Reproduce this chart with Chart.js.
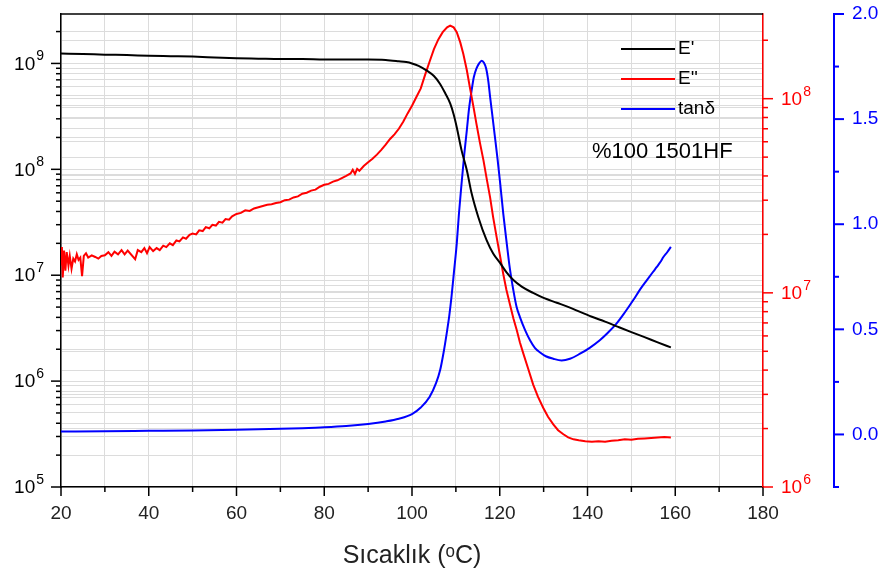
<!DOCTYPE html>
<html>
<head>
<meta charset="utf-8">
<script src="https://cdn.jsdelivr.net/npm/chart.js@4/dist/chart.umd.min.js"></script>
<style>
  body { margin: 0; background: #fff; }
  canvas { display: block; }
</style>
</head>
<body>
<canvas id="dma" width="888" height="576"></canvas>
<script>
// E' (storage modulus), left log axis
const tempE1 = [20, 25, 30, 35, 40, 45, 50, 55, 60, 65, 70, 75, 80, 85, 90, 94, 97, 98.7, 100, 101.5,
  103.3, 105, 106.4, 107.6, 108.7, 109.5, 110.2, 111.3, 112.5, 113.6, 115.1, 117, 118.5, 120.1, 121.5,
  123.1, 125, 127.6, 130, 133, 136, 138.3, 141, 144, 147, 150, 153, 156, 159];
const valE1 = [1.24e9, 1.23e9, 1.21e9, 1.2e9, 1.18e9, 1.17e9, 1.16e9, 1.14e9, 1.12e9, 1.11e9, 1.1e9, 1.1e9,
  1.09e9, 1.09e9, 1.09e9, 1.08e9, 1.05e9, 1.03e9, 1.0e9, 9.5e8, 8.6e8, 7.6e8, 6.4e8, 5.2e8, 4.2e8, 3.3e8,
  2.5e8, 1.51e8, 9.8e7, 5.9e7, 3.55e7, 2.14e7, 1.6e7, 1.3e7, 1.07e7, 9.0e6, 7.8e6, 6.8e6, 6.1e6, 5.5e6,
  4.95e6, 4.5e6, 4.05e6, 3.65e6, 3.25e6, 2.9e6, 2.6e6, 2.32e6, 2.08e6];

// E'' (loss modulus), red log axis
const tempE2 = [20, 20.2, 20.4, 20.7, 21, 21.3, 21.7, 22, 22.4, 22.8, 23.2, 23.6, 24, 24.4, 24.8, 25.2, 25.7,
  26.2, 27, 27.8, 28.5, 29.2, 30, 30.8, 31.5, 32.2, 33, 33.8, 34.5, 35.2, 36.9, 37.5, 38.3, 39, 39.6, 40.2,
  41, 41.8, 42.5, 43.3, 44, 44.8, 45.5, 46.3, 47, 47.8, 48.5, 49.3, 50, 50.8, 51.5, 52.3, 53, 53.8, 54.5,
  55.3, 56, 56.8, 57.5, 58.3, 59, 60, 61, 62, 63, 64, 65, 66, 67, 68, 69, 70, 71, 72, 73, 74, 75, 76, 77,
  78, 79, 80, 81, 82, 83, 84, 85, 86, 86.5, 87, 87.5, 88, 89, 90, 91, 92, 93, 94, 95, 96, 97, 98, 99, 100,
  101, 102, 103, 104, 105, 106, 107, 108, 108.7, 109.5, 110.2, 111, 111.7, 112.5, 113.2, 114, 114.7, 115.5,
  116.3, 117, 117.8, 118.5, 119.3, 120, 120.8, 121.5, 122.3, 123.1, 123.9, 124.6, 125.4, 126.5, 127.6,
  128.7, 129.9, 131, 132.2, 133.3, 134.5, 135.6, 136.8, 138, 139.5, 141, 142.5, 144, 145.5, 147, 148.5,
  150, 151.5, 153, 154.5, 156, 157.5, 159];
const valE2 = [1.4e7, 1.72e7, 1.2e7, 1.65e7, 1.3e7, 1.62e7, 1.38e7, 1.55e7, 1.33e7, 1.5e7, 1.45e7, 1.58e7,
  1.48e7, 1.52e7, 1.22e7, 1.55e7, 1.6e7, 1.52e7, 1.56e7, 1.53e7, 1.5e7, 1.55e7, 1.56e7, 1.62e7, 1.55e7,
  1.63e7, 1.58e7, 1.66e7, 1.58e7, 1.65e7, 1.49e7, 1.66e7, 1.62e7, 1.7e7, 1.6e7, 1.72e7, 1.64e7, 1.7e7,
  1.66e7, 1.75e7, 1.72e7, 1.8e7, 1.76e7, 1.86e7, 1.84e7, 1.93e7, 1.9e7, 1.99e7, 2.02e7, 2.0e7, 2.1e7,
  2.08e7, 2.18e7, 2.15e7, 2.24e7, 2.22e7, 2.32e7, 2.3e7, 2.4e7, 2.38e7, 2.48e7, 2.55e7, 2.58e7, 2.66e7,
  2.64e7, 2.72e7, 2.76e7, 2.8e7, 2.84e7, 2.86e7, 2.9e7, 2.93e7, 3.0e7, 3.02e7, 3.1e7, 3.14e7, 3.24e7,
  3.28e7, 3.36e7, 3.4e7, 3.52e7, 3.6e7, 3.64e7, 3.74e7, 3.8e7, 3.9e7, 4.0e7, 4.12e7, 4.3e7, 4.1e7, 4.35e7,
  4.25e7, 4.5e7, 4.7e7, 4.9e7, 5.15e7, 5.45e7, 5.8e7, 6.2e7, 6.55e7, 7.0e7, 7.6e7, 8.4e7, 9.2e7, 1.02e8,
  1.13e8, 1.33e8, 1.55e8, 1.8e8, 2.02e8, 2.2e8, 2.33e8, 2.38e8, 2.33e8, 2.2e8, 1.95e8, 1.7e8, 1.4e8,
  1.14e8, 9.1e7, 7.4e7, 5.9e7, 4.8e7, 3.9e7, 3.1e7, 2.45e7, 1.93e7, 1.58e7, 1.25e7, 1.04e7, 8.75e6, 7.4e6,
  6.4e6, 5.55e6, 4.85e6, 4.05e6, 3.38e6, 2.92e6, 2.56e6, 2.3e6, 2.1e6, 1.96e6, 1.87e6, 1.8e6, 1.76e6,
  1.74e6, 1.72e6, 1.71e6, 1.72e6, 1.71e6, 1.73e6, 1.74e6, 1.76e6, 1.75e6, 1.77e6, 1.78e6, 1.79e6, 1.8e6,
  1.81e6, 1.8e6];

// tan delta, blue linear axis
const tempTan = [20, 30, 40, 50, 60, 70, 75, 80, 85, 90, 94, 97, 100, 102, 104, 105.5, 106.4, 107.2, 107.9,
  108.5, 109, 109.6, 110.2, 110.7, 111.3, 111.9, 112.5, 113, 113.6, 114.1, 114.7, 115.3, 115.9, 116.4,
  116.9, 117.4, 117.8, 118.3, 118.9, 119.5, 120.1, 120.8, 121.6, 122.3, 123.1, 123.8, 124.6, 125.8, 126.9,
  128, 129.2, 130.5, 132.2, 134.1, 136, 138.3, 140.5, 142.8, 144.7, 146.6, 148.5, 150.4, 152, 153.5, 155,
  155.8, 156.6, 157.3, 158.2, 159];
const valTan = [0.014, 0.015, 0.017, 0.019, 0.022, 0.027, 0.03, 0.034, 0.04, 0.05, 0.062, 0.075, 0.097,
  0.128, 0.178, 0.245, 0.305, 0.39, 0.48, 0.565, 0.654, 0.78, 0.908, 1.05, 1.194, 1.33, 1.448, 1.55, 1.638,
  1.7, 1.741, 1.765, 1.778, 1.768, 1.741, 1.68, 1.606, 1.52, 1.416, 1.31, 1.194, 1.05, 0.908, 0.79, 0.686,
  0.61, 0.558, 0.495, 0.448, 0.412, 0.39, 0.372, 0.36, 0.352, 0.36, 0.384, 0.412, 0.448, 0.485, 0.527,
  0.58, 0.638, 0.69, 0.733, 0.775, 0.797, 0.82, 0.844, 0.868, 0.892];

const seriesNames = ["E'", "E''", 'tan\u03b4'];
const sampleLabel = '%100 1501HF';
const xTitle = 'Sıcaklık (ᵒC)';

const GRID = '#dcdcdc';
Chart.defaults.font.family = '"Liberation Sans", Arial, sans-serif';

const pts = (xs, ys) => xs.map((x, i) => ({ x: x, y: ys[i] }));

// fixed box sizes, no extra label padding
const fixSize = (w, h) => s => {
  if (w) s.width = w;
  if (h) s.height = h;
  s.paddingTop = 0; s.paddingBottom = 0; s.paddingLeft = 0; s.paddingRight = 0;
};

// all 1..9 x 10^n ticks between min and max
function logTicks(scale) {
  const out = [];
  for (let e = Math.floor(Math.log10(scale.min)); e <= Math.ceil(Math.log10(scale.max)); e++) {
    for (let m = 1; m <= 9; m++) {
      const v = m * Math.pow(10, e);
      if (v >= scale.min * 0.999 && v <= scale.max * 1.001) out.push({ value: v });
    }
  }
  scale.ticks = out;
}

function drawLogAxis(ctx, scale, side, color) {
  const x0 = side === 'left' ? scale.right : scale.left;
  const dir = side === 'left' ? -1 : 1;
  ctx.strokeStyle = color;
  ctx.fillStyle = color;
  ctx.lineWidth = 1.5;
  scale.ticks.forEach(t => {
    const e = Math.round(Math.log10(t.value));
    const major = Math.abs(t.value / Math.pow(10, e) - 1) < 1e-6;
    const y = scale.getPixelForValue(t.value);
    ctx.beginPath();
    ctx.moveTo(x0, y);
    ctx.lineTo(x0 + dir * (major ? 10 : 5), y);
    ctx.stroke();
    if (!major) return;
    ctx.font = '19px "Liberation Sans", Arial, sans-serif';
    const w10 = ctx.measureText('10').width;
    ctx.font = '14px "Liberation Sans", Arial, sans-serif';
    const wExp = ctx.measureText(String(e)).width;
    const start = side === 'left' ? x0 - 18 - w10 - wExp : x0 + 18;
    ctx.textAlign = 'left';
    ctx.textBaseline = 'middle';
    ctx.font = '19px "Liberation Sans", Arial, sans-serif';
    ctx.fillText('10', start, y + 1);
    ctx.font = '14px "Liberation Sans", Arial, sans-serif';
    ctx.fillText(String(e), start + w10 + 1, y - 7);
  });
}

const decorPlugin = {
  id: 'decor',
  afterDraw(chart) {
    const ctx = chart.ctx;
    const a = chart.chartArea;
    ctx.save();
    // top frame line
    ctx.strokeStyle = '#000';
    ctx.lineWidth = 1.5;
    ctx.beginPath();
    ctx.moveTo(a.left, a.top);
    ctx.lineTo(a.right, a.top);
    ctx.stroke();

    // x tick marks
    const xs = chart.scales.x;
    xs.ticks.forEach(t => {
      const px = xs.getPixelForValue(t.value);
      ctx.beginPath();
      ctx.moveTo(px, a.bottom);
      ctx.lineTo(px, a.bottom + (t.value % 20 === 0 ? 9 : 5));
      ctx.stroke();
    });

    drawLogAxis(ctx, chart.scales.y, 'left', '#000');
    drawLogAxis(ctx, chart.scales.yR, 'right', '#ff0000');

    // blue axis tick marks
    const yb = chart.scales.yB;
    ctx.strokeStyle = '#0000ff';
    ctx.lineWidth = 2;
    yb.ticks.forEach(t => {
      const py = yb.getPixelForValue(t.value);
      const major = Math.abs(t.value * 2 - Math.round(t.value * 2)) < 1e-6;
      ctx.beginPath();
      ctx.moveTo(yb.left, py);
      ctx.lineTo(yb.left + (major ? 10 : 5), py);
      ctx.stroke();
    });

    // legend
    ctx.font = '19px "Liberation Sans", Arial, sans-serif';
    ctx.textAlign = 'left';
    ctx.textBaseline = 'middle';
    chart.data.datasets.forEach((ds, i) => {
      const ly = 49 + i * 30;
      ctx.strokeStyle = ds.borderColor;
      ctx.lineWidth = 2;
      ctx.beginPath();
      ctx.moveTo(621, ly);
      ctx.lineTo(675, ly);
      ctx.stroke();
      ctx.fillStyle = '#000';
      ctx.fillText(ds.label, 678, ly);
    });
    ctx.font = '22px "Liberation Sans", Arial, sans-serif';
    ctx.fillText(sampleLabel, 592, 152);
    ctx.restore();
  }
};

new Chart(document.getElementById('dma'), {
  type: 'line',
  data: {
    datasets: [
      { label: seriesNames[0], data: pts(tempE1, valE1), yAxisID: 'y', borderColor: '#000000',
        borderWidth: 2, pointRadius: 0, cubicInterpolationMode: 'monotone' },
      { label: seriesNames[1], data: pts(tempE2, valE2), yAxisID: 'yR', borderColor: '#ff0000',
        borderWidth: 2, pointRadius: 0, tension: 0 },
      { label: seriesNames[2], data: pts(tempTan, valTan), yAxisID: 'yB', borderColor: '#0000ff',
        borderWidth: 2, pointRadius: 0, cubicInterpolationMode: 'monotone' }
    ]
  },
  options: {
    responsive: false,
    animation: false,
    layout: { padding: { top: 14, left: 0, right: 0, bottom: 0 } },
    plugins: { legend: { display: false }, tooltip: { enabled: false } },
    scales: {
      x: {
        type: 'linear',
        min: 20, max: 180,
        afterFit: fixSize(0, 89),
        grid: { color: GRID, drawTicks: false },
        border: { color: '#000', width: 1.5 },
        ticks: {
          stepSize: 10, padding: 15, color: '#222', font: { size: 19 },
          maxRotation: 0, autoSkip: false,
          callback: v => (v % 20 === 0 ? String(v) : '')
        },
        title: { display: true, text: xTitle, color: '#222', font: { size: 25 }, padding: { top: 4, bottom: 5 } }
      },
      y: {
        type: 'logarithmic',
        position: 'left',
        min: 1e5, max: 2.93e9,
        afterBuildTicks: logTicks,
        afterFit: fixSize(61, 0),
        grid: { color: GRID, drawTicks: false },
        border: { color: '#000', width: 1.5 },
        ticks: { display: false }
      },
      yR: {
        type: 'logarithmic',
        position: 'right',
        weight: 1,
        min: 1e6, max: 2.73e8,
        afterBuildTicks: logTicks,
        afterFit: fixSize(71, 0),
        grid: { color: GRID, drawTicks: false },
        border: { color: '#ff0000', width: 1.5 },
        ticks: { display: false }
      },
      yB: {
        type: 'linear',
        position: 'right',
        weight: 2,
        min: -0.25, max: 2.0,
        afterFit: fixSize(54, 0),
        grid: { drawOnChartArea: false, drawTicks: false },
        border: { color: '#0000ff', width: 2 },
        ticks: {
          stepSize: 0.25, padding: 18, color: '#0000ff', font: { size: 19 },
          callback: v => (Math.abs(v * 2 - Math.round(v * 2)) < 1e-6 ? v.toFixed(1) : '')
        }
      }
    }
  },
  plugins: [decorPlugin]
});
</script>
</body>
</html>
